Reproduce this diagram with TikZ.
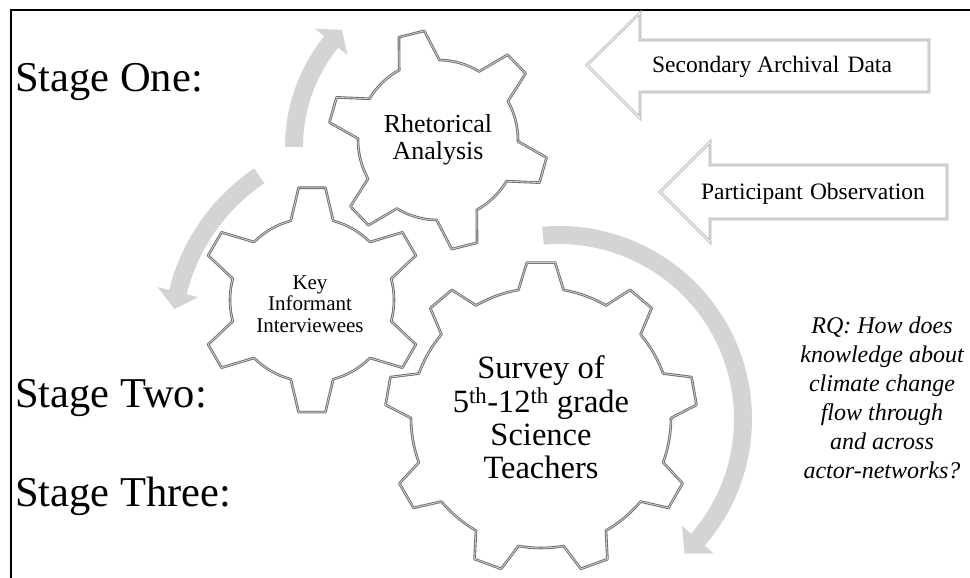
\documentclass[tikz,border=0pt]{standalone}
\usepackage{fontspec}
\setmainfont{Liberation Serif}

\definecolor{cogline}{RGB}{105,105,105}
\definecolor{cogcore}{RGB}{205,205,205}
\definecolor{flowgray}{RGB}{212,212,212}
\definecolor{arrowline}{RGB}{180,180,180}

% Outline of a cog wheel:
% #1 centre, #2 teeth, #3 root radius, #4 tip radius,
% #5 angle of first tooth, #6 half-angle at root, #7 half-angle at tip
\newcommand\cogoutline[7]{%
  \begin{scope}[shift={#1}]
    \pgfmathsetmacro\cogpitch{360/#2}
    \draw[cog] ({#5-#6}:#3)
      \foreach \k in {1,...,#2}{
        -- ({#5+\cogpitch*(\k-1)-#7}:#4)
        -- ({#5+\cogpitch*(\k-1)+#7}:#4)
        -- ({#5+\cogpitch*(\k-1)+#6}:#3)
        arc[start angle={#5+\cogpitch*(\k-1)+#6}, end angle={#5+\cogpitch*\k-#6}, radius=#3]
      } -- cycle;
  \end{scope}}

% Curved band arrow around a centre:
% #1 centre, #2 radius, #3 start angle, #4 angle where the head begins, #5 tip angle
\newcommand\turnarrow[5]{%
  \begin{scope}[shift={#1}]
    \fill[flow] ({#3}:{#2+9}) arc[start angle={#3}, end angle={#4}, radius={#2+9}]
      -- ({#4}:{#2+21}) -- ({#5}:{#2}) -- ({#4}:{#2-21})
      -- ({#4}:{#2-9}) arc[start angle={#4}, end angle={#3}, radius={#2-9}] -- cycle;
  \end{scope}}

\begin{document}
\begin{tikzpicture}[x=1pt,y=1pt,
  cog/.style={draw=cogline, double=cogcore, double distance=0.9pt, line width=0.85pt,
              fill=white, line join=round},
  flow/.style={fill=flowgray},
  blockarrow/.style={draw=arrowline, double=white, double distance=0.8pt,
                     line width=0.9pt, fill=white, line join=miter},
  frame/.style={draw=black, line width=1.6pt},
  stage/.style={anchor=base west, inner sep=0pt, font=\fontsize{42.5}{49}\selectfont},
  cogtext/.style={align=center, inner sep=0pt},
  boxtext/.style={anchor=base, inner sep=0pt, font=\fontsize{23.5}{27}\selectfont},
]
\useasboundingbox (0,0) rectangle (970,578);
\fill[white] (0,0) rectangle (970,578);

% frame edges
\draw[frame] (11,0) -- (11,568) -- (970,568);

% rotation arrows
\turnarrow{(461,431)}{167}{180}{141}{135.5}
\turnarrow{(370,238)}{198}{124}{166}{171}
\turnarrow{(559,159)}{184}{95}{-41}{-47}

% cog wheels
\cogoutline{(312,278)}{6}{82}{113}{30}{15}{6.8}
\cogoutline{(541,160)}{9}{130}{156}{90}{10}{5.2}
\cogoutline{(438,438)}{6}{80}{110}{104}{15}{6.8}

% input arrows
\draw[blockarrow] (929,538) -- (640,538) -- (640,565) -- (587,513)
  -- (640,460) -- (640,486) -- (929,486) -- cycle;
\draw[blockarrow] (947,413) -- (710,413) -- (710,436) -- (660,386)
  -- (710,336) -- (710,359) -- (947,359) -- cycle;

\node[boxtext] (archival) at (772,505) {Secondary Archival\hspace{0.35em}Data};
\node[boxtext] (observation) at (813,378) {Participant\hspace{0.3em}Observation};

% stage labels
\node[stage] (stage1) at (15,486) {Stage One:};
\node[stage] (stage2) at (15,170) {Stage Two:};
\node[stage] (stage3) at (15,71) {Stage Three:};

% cog labels
\node[cogtext, font=\fontsize{26}{27}\selectfont] (rhetoric) at (438,438)
  {Rhetorical\\Analysis};
\node[cogtext, font=\fontsize{21}{21.5}\selectfont] (informants) at (310,274)
  {Key\\Informant\\Interviewees};
\node[cogtext, font=\fontsize{32.5}{33.3}\selectfont] (survey) at (541,160.5)
  {Survey of\\5\textsuperscript{th}-12\textsuperscript{th} grade\\Science\\Teachers};

% research question
\node[cogtext, font=\fontsize{24}{29}\selectfont\itshape] (rq) at (882,180.5)
  {RQ: How does\\knowledge about\\climate change\\flow through\\and across\\actor-networks?};
\end{tikzpicture}
\end{document}
